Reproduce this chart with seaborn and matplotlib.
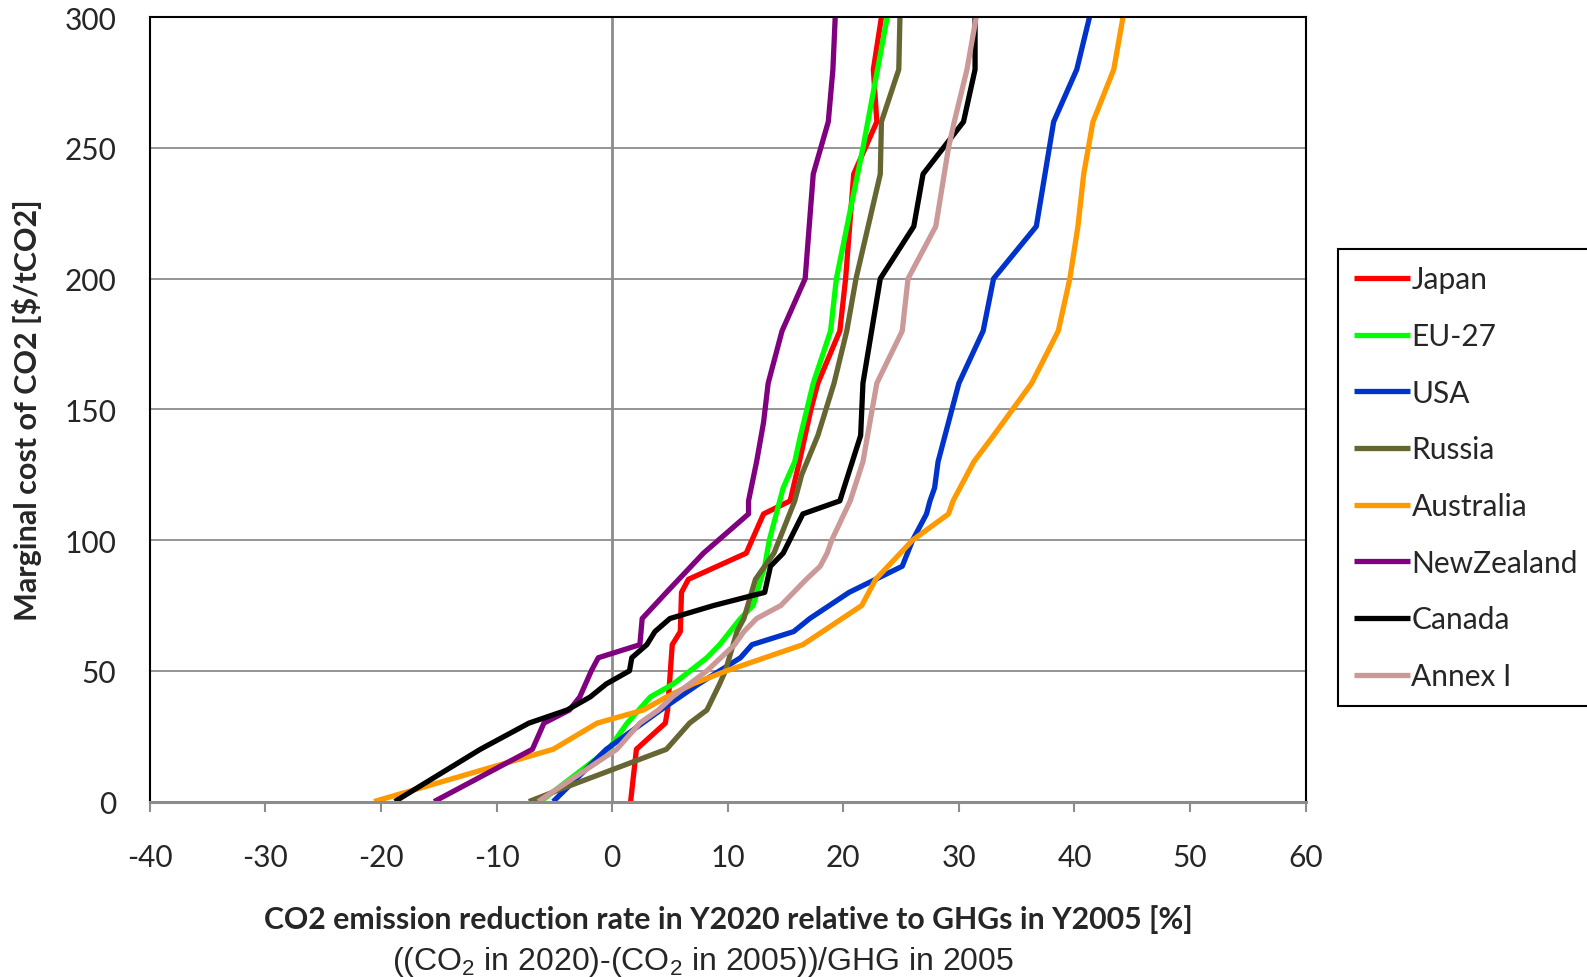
import matplotlib
matplotlib.use("Agg")
import matplotlib.pyplot as plt
import seaborn as sns
import pandas as pd

# series names and colours (legend order = drawing order)
countries = ["Japan", "EU-27", "USA", "Russia", "Australia", "NewZealand", "Canada", "Annex I"]
colors = ["#ff0000", "#00ff00", "#0033cc", "#666633", "#ff9900", "#800080", "#000000", "#cc9999"]

# marginal cost [$/tCO2] vs reduction rate [%]
japan_cost = [0, 20, 30, 35, 60, 65, 80, 85, 95, 110, 115, 130, 150, 160, 180, 200, 240, 260, 280, 300]
japan_rate = [1.6, 2.1, 4.6, 4.8, 5.2, 5.9, 6.0, 6.6, 11.6, 13.1, 15.4, 16.2, 17.2, 17.8, 19.7, 20.2, 20.9, 22.9, 22.6, 23.3]

eu_cost = [0, 20, 30, 40, 45, 55, 60, 70, 75, 90, 100, 120, 130, 140, 160, 180, 200, 250, 300]
eu_rate = [-6.2, -0.3, 1.3, 3.3, 5.3, 8.2, 9.3, 11.1, 12.2, 13.2, 13.6, 14.8, 15.8, 16.3, 17.4, 18.9, 19.4, 21.7, 23.8]

usa_cost = [0, 20, 35, 45, 55, 60, 65, 70, 80, 85, 90, 100, 110, 115, 120, 130, 160, 180, 200, 220, 260, 280, 300]
usa_rate = [-5.1, -0.5, 4.2, 7.5, 11.1, 12.1, 15.7, 17.1, 20.5, 22.8, 25.1, 26.0, 27.2, 27.5, 27.9, 28.2, 30.0, 32.1, 33.0, 36.7, 38.2, 40.2, 41.3]

russia_cost = [0, 5, 20, 30, 35, 45, 50, 65, 70, 85, 95, 115, 125, 140, 160, 180, 200, 240, 260, 280, 300]
russia_rate = [-7.2, -4.3, 4.7, 6.7, 8.2, 9.3, 9.8, 10.8, 11.4, 12.4, 14.0, 15.8, 16.4, 17.8, 19.2, 20.3, 21.1, 23.2, 23.3, 24.8, 24.9]

australia_cost = [0, 20, 30, 35, 40, 45, 50, 60, 75, 85, 100, 110, 115, 130, 140, 160, 180, 200, 220, 240, 260, 280, 300]
australia_rate = [-20.6, -5.1, -1.3, 2.7, 4.7, 7.0, 9.9, 16.5, 21.6, 22.8, 26.0, 29.1, 29.5, 31.3, 33.0, 36.3, 38.6, 39.6, 40.3, 40.8, 41.6, 43.4, 44.2]

nz_cost = [0, 20, 30, 35, 40, 50, 55, 60, 70, 80, 95, 110, 115, 130, 145, 160, 180, 200, 240, 260, 280, 300]
nz_rate = [-15.4, -6.9, -5.9, -3.7, -2.8, -1.8, -1.2, 2.4, 2.6, 4.7, 7.9, 11.8, 11.8, 12.5, 13.1, 13.5, 14.7, 16.7, 17.4, 18.7, 19.1, 19.3]

canada_cost = [0, 20, 30, 35, 40, 45, 50, 55, 60, 65, 70, 75, 80, 90, 95, 110, 115, 140, 160, 200, 220, 240, 260, 280, 300]
canada_rate = [-18.8, -11.4, -7.2, -3.9, -1.9, -0.5, 1.5, 1.7, 3.0, 3.7, 5.0, 8.8, 13.2, 13.7, 14.8, 16.5, 19.7, 21.5, 21.7, 23.2, 26.1, 26.9, 30.4, 31.4, 31.4]

annex_cost = [0, 20, 30, 35, 40, 50, 60, 65, 70, 75, 85, 90, 95, 100, 115, 130, 160, 180, 200, 220, 250, 260, 280, 300]
annex_rate = [-6.4, 0.4, 2.4, 4.0, 5.2, 8.2, 10.6, 11.4, 12.5, 14.6, 16.8, 18.0, 18.6, 19.0, 20.6, 21.7, 22.9, 25.1, 25.6, 28.0, 29.1, 29.6, 30.7, 31.5]

x_ticks = [-40, -30, -20, -10, 0, 10, 20, 30, 40, 50, 60]
y_ticks = [0, 50, 100, 150, 200, 250, 300]

costs = [japan_cost, eu_cost, usa_cost, russia_cost, australia_cost, nz_cost, canada_cost, annex_cost]
rates = [japan_rate, eu_rate, usa_rate, russia_rate, australia_rate, nz_rate, canada_rate, annex_rate]

rows = []
for name, c_list, r_list in zip(countries, costs, rates):
    for c, r in zip(c_list, r_list):
        rows.append({"country": name, "cost": c, "rate": r})
df = pd.DataFrame(rows)

sns.set_style("white")
plt.rcParams['font.family'] = ['Lato', 'DejaVu Sans']
plt.rcParams['axes.unicode_minus'] = False
plt.rcParams['mathtext.fontset'] = 'custom'
plt.rcParams['mathtext.rm'] = 'Liberation Sans'

fig = plt.figure(figsize=(15.87, 9.78), dpi=100)
ax = fig.add_axes([0.0944, 0.1794, 0.7283, 0.802])

# grid lines and the gray axis through x = 0
grid_gray = "#8c8c8c"
for yv in y_ticks[1:-1]:
    ax.axhline(yv, color=grid_gray, lw=1.3, zorder=0)
ax.axvline(0, color=grid_gray, lw=2, zorder=0)

for name, col in zip(countries, colors):
    sub = df[df["country"] == name]
    sns.lineplot(data=sub, x="rate", y="cost", sort=False, estimator=None,
                 color=col, lw=3.8, label=name, ax=ax,
                 solid_joinstyle="round", solid_capstyle="butt")

ax.set_xlim(-40, 60)
ax.set_ylim(0, 300)
ax.set_xticks(x_ticks)
ax.set_yticks(y_ticks)
ax.set_xlabel("")
ax.set_ylabel("")
ax.tick_params(axis='x', labelsize=21.5, length=7.5, width=1.5, color=grid_gray,
               direction='out', pad=22, bottom=True)
ax.tick_params(axis='y', labelsize=21.5, length=0, pad=24)

for side in ["top", "left", "right"]:
    ax.spines[side].set_color("black")
    ax.spines[side].set_linewidth(1.5)
ax.spines["bottom"].set_color(grid_gray)
ax.spines["bottom"].set_linewidth(2.2)

ax.text(-0.106, 0.5, "Marginal cost of CO2 [$/tCO2]", transform=ax.transAxes,
        rotation=90, ha='center', va='center', fontsize=22, fontweight='bold')
ax.text(0.501, -0.149, "CO2 emission reduction rate in Y2020 relative to GHGs in Y2005 [%]",
        transform=ax.transAxes, ha='center', va='center', fontsize=21.8, fontweight='bold')
ax.text(0.479, -0.203, r"((CO$_2$ in 2020)-(CO$_2$ in 2005))/GHG in 2005",
        transform=ax.transAxes, ha='center', va='center', fontsize=23,
        family=['Liberation Sans', 'DejaVu Sans'])

leg = ax.legend(loc='upper left', bbox_to_anchor=(0.8431, 0.7444), bbox_transform=fig.transFigure,
                fontsize=21.5, frameon=True, fancybox=False, framealpha=1, edgecolor='black',
                borderpad=0.55, handlelength=1.85, handletextpad=0.06, labelspacing=0.96,
                borderaxespad=0)
leg.get_frame().set_linewidth(1.5)

fig.savefig("out.png", dpi=100)
